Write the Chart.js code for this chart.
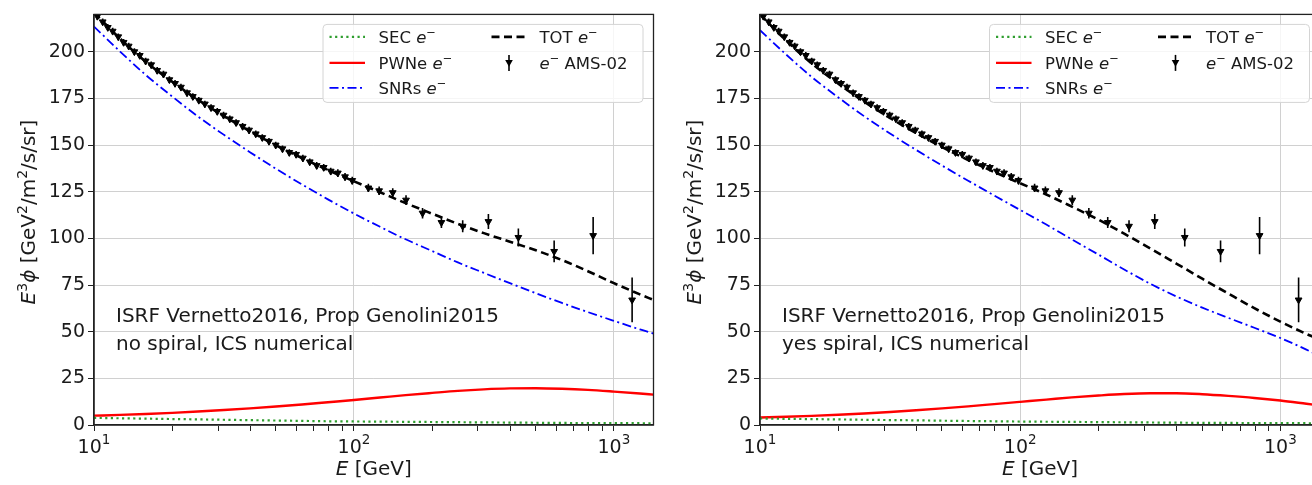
<!DOCTYPE html>
<html>
<head>
  <meta charset="utf-8">
  <title>Electron spectrum, E^3 flux</title>
  <script src="https://cdn.jsdelivr.net/npm/chart.js"></script>
  <style>
    html, body { margin: 0; padding: 0; background: #fff; overflow: hidden; }
    #wrap { position: relative; width: 1312px; height: 485px; overflow: hidden; }
    .panel { position: absolute; top: 0; width: 665px; height: 485px; }
    #left { left: 0; }
    #right { left: 665px; }
  </style>
</head>
<body>
<div id="wrap">
  <div class="panel" id="left"><canvas id="noSpiral" width="665" height="485"></canvas></div>
  <div class="panel" id="right"><canvas id="withSpiral" width="665" height="485"></canvas></div>
</div>
<script>
  // energies (GeV) where the model curves are sampled
  const energyGrid = [10, 12.6, 15.8, 20, 25.1, 31.6, 39.8, 50.1, 63.1, 79.4, 100, 126, 158, 200,
    251, 316, 398, 501, 631, 794, 1000, 1259, 1420];

  // model without spiral arms
  const secNoSpiral  = [3.8, 3.6, 3.4, 3.2, 3.0, 2.8, 2.6, 2.4, 2.2, 2.0, 1.9, 1.8, 1.7, 1.6,
    1.5, 1.4, 1.3, 1.2, 1.1, 1.05, 1.0, 0.95, 0.9];
  const pwneNoSpiral = [5.0, 5.4, 5.9, 6.5, 7.2, 8.0, 8.9, 9.9, 11.0, 12.2, 13.4, 14.7, 16.0, 17.2,
    18.3, 19.1, 19.6, 19.7, 19.4, 18.8, 17.9, 16.9, 16.3];
  const snrNoSpiral  = [213.5, 200.1, 187.6, 176.0, 165.3, 155.5, 146.2, 137.3, 128.9, 120.9, 113.3, 106.2, 99.5, 93.2,
    87.1, 81.5, 76.0, 70.6, 65.4, 60.5, 55.8, 51.2, 49.0];
  const totNoSpiral  = [221, 207, 194.7, 183.9, 174.3, 165.5, 157.4, 149.9, 143.0, 136.6, 130.6, 124.7, 118.9, 113.2,
    107.8, 102.8, 98.2, 93.6, 88.4, 82.4, 76.0, 70.0, 67.0];

  // model with spiral arms
  const secSpiral  = [3.5, 3.3, 3.15, 3.0, 2.8, 2.65, 2.5, 2.3, 2.15, 2.0, 1.85, 1.75, 1.65, 1.55,
    1.45, 1.35, 1.25, 1.15, 1.1, 1.05, 1.0, 0.95, 0.9];
  const pwneSpiral = [4.0, 4.4, 4.9, 5.5, 6.2, 7.0, 7.9, 8.9, 10.0, 11.2, 12.4, 13.6, 14.8, 15.8,
    16.6, 17.0, 17.0, 16.5, 15.6, 14.5, 13.1, 11.4, 10.5];
  const snrSpiral  = [211.5, 198.5, 186.5, 175.5, 165.5, 156.2, 147.4, 139.0, 130.9, 123.0, 115.2, 107.4, 99.4, 91.3,
    83.3, 75.7, 68.9, 62.9, 57.4, 52.1, 46.6, 40.4, 36.7];
  const totSpiral  = [220, 206, 193.7, 182.9, 173.3, 164.5, 156.4, 148.9, 142.0, 135.6, 129.5, 123.5, 117.0, 110.0,
    102.5, 94.6, 86.5, 78.4, 70.4, 62.6, 55.4, 48.8, 45.7];

  // AMS-02 electrons
  const amsEnergy = [10.3, 10.8, 11.3, 11.8, 12.4, 13.0, 13.6, 14.3, 15.0, 15.8, 16.6, 17.5, 18.5, 19.5,
    20.5, 21.6, 22.8, 24.0, 25.3, 26.7, 28.2, 29.8, 31.5, 33.3, 35.2, 37.3, 39.5, 41.9, 44.4, 47.1,
    50.0, 53.1, 56.4, 59.9, 63.6, 67.6, 71.9, 76.5, 81.4, 86.7, 92.4, 98.5,
    113.6, 125, 141, 158.6, 183.6, 217, 262, 329, 429, 589, 832, 1175];
  const amsFlux = [219, 216, 213, 211, 208, 205, 203, 200, 198, 195, 193, 190, 188, 185,
    183, 181, 178, 176, 174, 172, 170, 168, 166, 164, 162, 160, 158, 156, 154, 152,
    150, 148, 146, 145, 143, 141, 139, 138, 136, 135, 133, 131,
    127, 125.5, 124.5, 120.5, 113.5, 108.5, 106.5, 109, 100.5, 93, 101.5, 67];
  const amsError = [1.8, 1.8, 1.8, 1.8, 1.8, 1.8, 1.8, 1.8, 1.8, 1.8, 1.8, 1.8, 1.8, 1.8,
    1.8, 1.8, 1.8, 1.8, 1.8, 1.8, 1.8, 1.8, 1.8, 1.8, 1.8, 1.8, 1.8, 1.8, 1.8, 1.8,
    1.8, 1.8, 1.8, 1.8, 1.8, 1.8, 1.9, 1.9, 1.9, 2, 2, 2,
    2.2, 2.3, 2.4, 2.6, 2.8, 3, 3.2, 4, 4.8, 5.8, 10, 12];

  const xMajor = [10, 100, 1000];
  const xMinor = [20, 30, 40, 50, 60, 70, 80, 90, 200, 300, 400, 500, 600, 700, 800, 900];
  const yTicks = [0, 25, 50, 75, 100, 125, 150, 175, 200];

  const FONT = "'DejaVu Sans', sans-serif";
  const INK = '#1a1a1a';

  function setFont(ctx, size, italic) {
    ctx.font = (italic ? 'italic ' : '') + size + 'px ' + FONT;
  }
  // parts: [text, size, italic, rise]
  function richWidth(ctx, parts) {
    let w = 0;
    for (const [t, size, italic] of parts) { setFont(ctx, size, italic); w += ctx.measureText(t).width; }
    return w;
  }
  function drawRich(ctx, parts, x, y) {
    let cx = x;
    for (const [t, size, italic, rise] of parts) {
      setFont(ctx, size, italic);
      ctx.fillText(t, cx, y - (rise || 0));
      cx += ctx.measureText(t).width;
    }
  }
  const eMinus = [['e', 16.5, true], ['\u2212', 11.5, false, 7]];

  const legendRows = [
    { ds: 0, col: 0, row: 0, text: [['SEC ', 16.5]].concat(eMinus) },
    { ds: 1, col: 0, row: 1, text: [['PWNe ', 16.5]].concat(eMinus) },
    { ds: 2, col: 0, row: 2, text: [['SNRs ', 16.5]].concat(eMinus) },
    { ds: 3, col: 1, row: 0, text: [['TOT ', 16.5]].concat(eMinus) },
    { ds: 4, col: 1, row: 1, text: eMinus.concat([[' AMS-02', 16.5]]) }
  ];

  const decorations = {
    id: 'decorations',
    afterDatasetsDraw(chart) {
      // vertical error bars on the AMS-02 points
      const ctx = chart.ctx, xs = chart.scales.x, ys = chart.scales.y, a = chart.chartArea;
      const ds = chart.data.datasets[4];
      ctx.save();
      ctx.beginPath();
      ctx.rect(a.left, a.top, a.right - a.left, a.bottom - a.top);
      ctx.clip();
      ctx.strokeStyle = '#000';
      ctx.lineWidth = 1.6;
      ctx.beginPath();
      ds.data.forEach((p, i) => {
        const px = xs.getPixelForValue(p.x);
        ctx.moveTo(px, ys.getPixelForValue(p.y - ds.errors[i]));
        ctx.lineTo(px, ys.getPixelForValue(p.y + ds.errors[i]));
      });
      ctx.stroke();
      ctx.restore();
    },
    afterDraw(chart, args, opts) {
      const ctx = chart.ctx, xs = chart.scales.x, a = chart.chartArea;
      ctx.save();
      // frame
      ctx.strokeStyle = '#222';
      ctx.lineWidth = 1.3;
      ctx.strokeRect(a.left, a.top, a.right - a.left, a.bottom - a.top);

      ctx.fillStyle = INK;
      ctx.textBaseline = 'alphabetic';
      // x tick labels 10^n
      xMajor.forEach((v, i) => {
        const parts = [['10', 19], [String(i + 1), 13.5, false, 9]];
        const w = richWidth(ctx, parts);
        drawRich(ctx, parts, xs.getPixelForValue(v) - w / 2, a.bottom + 28);
      });
      // x title
      const xt = [['E', 20, true], [' [GeV]', 20]];
      drawRich(ctx, xt, (a.left + a.right) / 2 - richWidth(ctx, xt) / 2, a.bottom + 50);
      // y title
      const yt = [['E', 20, true], ['3', 14, false, 8], ['\u03d5', 20, true], [' [GeV', 20],
        ['2', 14, false, 8], ['/m', 20], ['2', 14, false, 8], ['/s/sr]', 20]];
      ctx.save();
      ctx.translate(a.left - 59, 212);
      ctx.rotate(-Math.PI / 2);
      drawRich(ctx, yt, -richWidth(ctx, yt) / 2, 0);
      ctx.restore();

      // model note
      setFont(ctx, 20, false);
      ctx.fillText(opts.note[0], a.left + 22, 322);
      ctx.fillText(opts.note[1], a.left + 22, 350);

      // legend
      const R = a.right, T = a.top;
      const bx = R - 330.5, by = T + 10, bw = 320, bh = 78;
      ctx.beginPath();
      ctx.roundRect(bx, by, bw, bh, 4);
      ctx.fillStyle = 'rgba(255,255,255,0.8)';
      ctx.fill();
      ctx.strokeStyle = '#d4d4d4';
      ctx.lineWidth = 1;
      ctx.stroke();
      const colX = [R - 324, R - 162];
      const textX = [R - 275, R - 114];
      const rowY = [T + 22.5, T + 48.5, T + 73.5];
      legendRows.forEach(item => {
        const d = chart.data.datasets[item.ds];
        const y = rowY[item.row], x0 = colX[item.col];
        ctx.save();
        if (d.showLine === false) {
          const cx = x0 + 17.5;
          ctx.strokeStyle = '#000';
          ctx.lineWidth = 1.6;
          ctx.beginPath();
          ctx.moveTo(cx, y - 8); ctx.lineTo(cx, y + 8);
          ctx.stroke();
          ctx.fillStyle = '#000';
          ctx.beginPath();
          ctx.moveTo(cx - 3.8, y - 2.8); ctx.lineTo(cx + 3.8, y - 2.8); ctx.lineTo(cx, y + 3.8);
          ctx.closePath();
          ctx.fill();
        } else {
          ctx.strokeStyle = d.borderColor;
          ctx.lineWidth = d.borderWidth;
          ctx.setLineDash(d.borderDash || []);
          ctx.beginPath();
          ctx.moveTo(x0, y); ctx.lineTo(x0 + 35.5, y);
          ctx.stroke();
        }
        ctx.restore();
        ctx.fillStyle = INK;
        drawRich(ctx, item.text, textX[item.col], y + 6);
      });
      ctx.restore();
    }
  };

  function curve(ys) {
    return energyGrid.map((e, i) => ({ x: e, y: ys[i] }));
  }

  function makePanel(canvasId, sec, pwne, snr, tot, yAxisWidth, padRight, note) {
    return new Chart(document.getElementById(canvasId), {
      type: 'line',
      data: {
        datasets: [
          { label: 'SEC', data: curve(sec), borderColor: '#2f9e2f', borderWidth: 2.2,
            borderDash: [2.2, 3.4], borderCapStyle: 'butt' },
          { label: 'PWNe', data: curve(pwne), borderColor: '#ff0000', borderWidth: 2.4 },
          { label: 'SNRs', data: curve(snr), borderColor: '#0000ff', borderWidth: 1.8,
            borderDash: [9, 3.5, 2, 3.5] },
          { label: 'TOT', data: curve(tot), borderColor: '#000000', borderWidth: 2.6,
            borderDash: [8, 4.5] },
          { label: 'AMS-02', data: amsEnergy.map((e, i) => ({ x: e, y: amsFlux[i] })),
            errors: amsError, showLine: false, pointStyle: 'triangle', rotation: 180,
            pointRadius: 3.9, backgroundColor: '#000', borderColor: '#000', borderWidth: 1 }
        ]
      },
      options: {
        responsive: false,
        animation: false,
        devicePixelRatio: 1,
        layout: { padding: { top: 11, right: padRight, left: 0, bottom: 0 } },
        elements: {
          line: { cubicInterpolationMode: 'monotone', fill: false },
          point: { radius: 0 }
        },
        scales: {
          x: {
            type: 'logarithmic',
            min: 10,
            max: 1420,
            afterBuildTicks: s => { s.ticks = xMajor.concat(xMinor).sort((p, q) => p - q).map(v => ({ value: v })); },
            afterFit: s => { s.height = 60; },
            ticks: { display: false },
            grid: {
              color: c => (c.tick && xMajor.includes(c.tick.value)) ? '#d0d0d0' : 'rgba(0,0,0,0)',
              tickColor: '#222',
              tickLength: 6,
              lineWidth: 1
            },
            border: { color: '#222', width: 1.3 }
          },
          y: {
            min: 0,
            max: 220,
            afterBuildTicks: s => { s.ticks = yTicks.map(v => ({ value: v })); },
            afterFit: s => { s.width = yAxisWidth; },
            ticks: { font: { family: 'DejaVu Sans', size: 19 }, color: INK, padding: 3 },
            grid: { color: '#d0d0d0', tickColor: '#222', tickLength: 6, lineWidth: 1 },
            border: { color: '#222', width: 1.3 }
          }
        },
        plugins: {
          legend: { display: false },
          tooltip: { enabled: false },
          decorations: { note: note }
        }
      },
      plugins: [decorations]
    });
  }

  makePanel('noSpiral', secNoSpiral, pwneNoSpiral, snrNoSpiral, totNoSpiral, 94, 11.5,
    ['ISRF Vernetto2016, Prop Genolini2015', 'no spiral, ICS numerical']);
  makePanel('withSpiral', secSpiral, pwneSpiral, snrSpiral, totSpiral, 95, 10,
    ['ISRF Vernetto2016, Prop Genolini2015', 'yes spiral, ICS numerical']);
</script>
</body>
</html>
